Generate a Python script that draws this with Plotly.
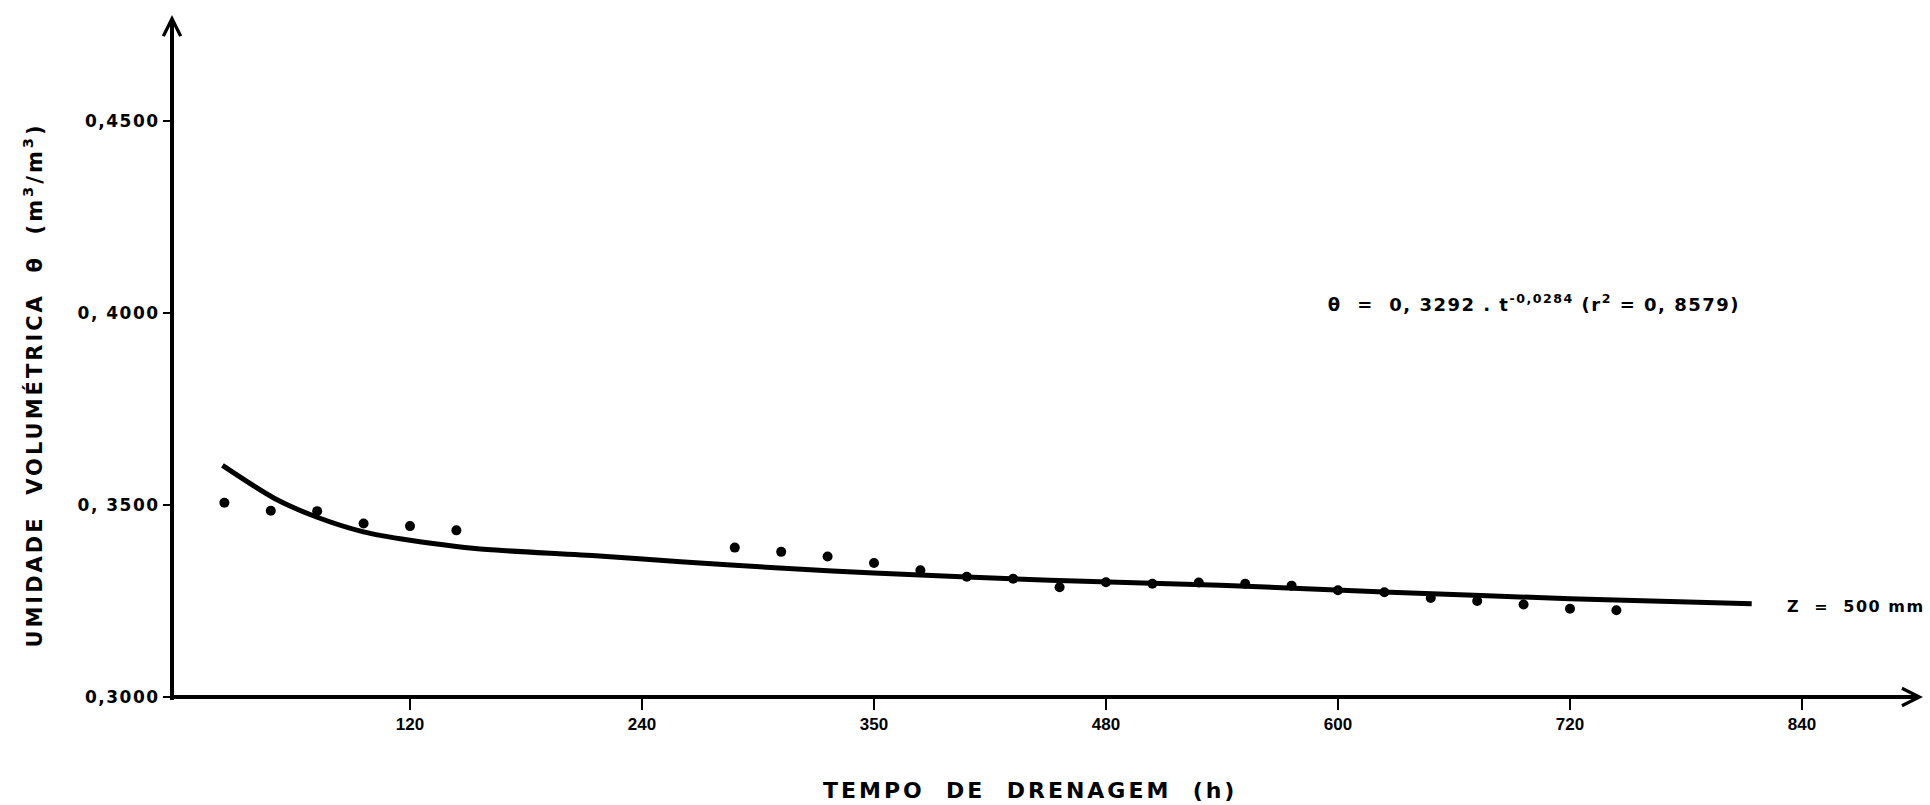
import plotly.graph_objects as go

# Measured soil moisture during drainage (depth Z = 500 mm)
tempo_h = [24, 48, 72, 96, 120, 144,
           288, 312, 336, 360, 384, 408, 432, 456, 480, 504, 528, 552,
           576, 600, 624, 648, 672, 696, 720, 744]
umidade = [0.3506, 0.3485, 0.3484, 0.3452, 0.3445, 0.3434,
           0.3389, 0.3378, 0.3366, 0.3349, 0.3330, 0.3313, 0.3308, 0.3286,
           0.3299, 0.3295, 0.3298, 0.3295, 0.3290, 0.3278, 0.3273, 0.3258,
           0.3250, 0.3241, 0.3230, 0.3226]

# Fitted drainage curve, sampled along its drawn path
curva_t = [23, 50, 72, 96, 120, 144, 160, 218, 260, 311, 360, 451, 539, 627, 720, 814]
curva_u = [0.3603, 0.3517, 0.3468, 0.3430, 0.3408, 0.3392, 0.3384, 0.3367,
           0.3352, 0.3336, 0.3323, 0.3304, 0.3291, 0.3273, 0.3256, 0.3243]

x_ticks = [120, 240, 360, 480, 600, 720, 840]
x_ticktext = ["120", "240", "350", "480", "600", "720", "840"]
y_ticks = [0.30, 0.35, 0.40, 0.45]
y_ticktext = ["0,3000", "0, 3500", "0, 4000", "0,4500"]

X_MIN, X_MAX = -3.1, 902.6
Y_MIN, Y_MAX = 0.30, 0.4776

FONT = "DejaVu Sans"
FONT_NARROW = "Liberation Sans"

fig = go.Figure()

fig.add_trace(go.Scatter(
    x=curva_t, y=curva_u, mode="lines",
    line=dict(color="black", width=5, shape="spline", smoothing=0.8),
    hoverinfo="skip", showlegend=False,
))
fig.add_trace(go.Scatter(
    x=tempo_h, y=umidade, mode="markers",
    marker=dict(color="black", size=10),
    showlegend=False,
))

annotations = [
    # x axis with arrow head
    dict(x=X_MAX, y=Y_MIN, ax=X_MIN, ay=Y_MIN, xref="x", yref="y",
         axref="x", ayref="y", text="", showarrow=True,
         arrowhead=5, arrowsize=0.85, arrowwidth=4, arrowcolor="black", standoff=0),
    # y axis with arrow head
    dict(x=X_MIN, y=Y_MAX, ax=X_MIN, ay=Y_MIN - 0.0012, xref="x", yref="y",
         axref="x", ayref="y", text="", showarrow=True,
         arrowhead=5, arrowsize=0.85, arrowwidth=4, arrowcolor="black", standoff=0),
    # fitted equation
    dict(x=0.778, y=0.578, xref="paper", yref="paper", showarrow=False,
         xanchor="center", yanchor="middle",
         text="θ  =  0, 3292 . t<sup>-0,0284</sup> (r<sup>2</sup> = 0, 8579)",
         font=dict(family=FONT, size=18, color="black", weight="bold")),
    # depth label
    dict(x=0.962, y=0.133, xref="paper", yref="paper", showarrow=False,
         xanchor="center", yanchor="middle",
         text="Z  =  500 mm",
         font=dict(family=FONT, size=16, color="black", weight="bold")),
    # x title
    dict(x=0.49, y=-0.1364, xref="paper", yref="paper", showarrow=False,
         xanchor="center", yanchor="middle",
         text="TEMPO  DE  DRENAGEM  (h)",
         font=dict(family=FONT, size=22, color="black", weight="bold")),
    # y title
    dict(x=-0.0794, y=0.458, xref="paper", yref="paper", showarrow=False,
         xanchor="center", yanchor="middle", textangle=-90,
         text="UMIDADE  VOLUMÉTRICA  θ  (m<sup>3</sup>/m<sup>3</sup>)",
         font=dict(family=FONT, size=21, color="black", weight="bold")),
]

fig.update_layout(
    width=1930, height=805,
    margin=dict(l=172, r=7, t=15, b=108),
    paper_bgcolor="white", plot_bgcolor="white",
    showlegend=False,
    annotations=annotations,
    xaxis=dict(
        range=[X_MIN, X_MAX], showgrid=False, zeroline=False, showline=False,
        tickmode="array", tickvals=x_ticks, ticktext=x_ticktext,
        ticks="outside", ticklen=12, tickwidth=2, tickcolor="black",
        tickfont=dict(family=FONT_NARROW, size=17, color="black", weight="bold"),
    ),
    yaxis=dict(
        range=[Y_MIN, Y_MAX], showgrid=False, zeroline=False, showline=False,
        tickmode="array", tickvals=y_ticks, ticktext=y_ticktext,
        ticks="outside", ticklen=8, tickwidth=2, tickcolor="black",
        tickfont=dict(family=FONT, size=17, color="black", weight="bold"),
    ),
)

# Wide hand-lettered spacing for the texts
spacing_css = (
    "g.ytick text{letter-spacing:1.5px}"
    "g.annotation[data-index='2'] text{letter-spacing:1.5px}"
    "g.annotation[data-index='3'] text{letter-spacing:1.5px}"
    "g.annotation[data-index='4'] text{letter-spacing:3px}"
    "g.annotation[data-index='5'] text{letter-spacing:3px}"
)
post_js = (
    "var s=document.createElement('style');"
    "s.textContent=\"" + spacing_css + "\";"
    "document.head.appendChild(s);"
)

fig.write_html("out.html", post_script=post_js)
